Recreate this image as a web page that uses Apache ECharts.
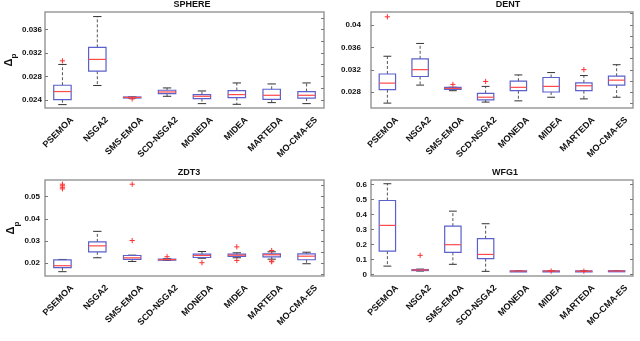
<!DOCTYPE html>
<html>
<head>
<meta charset="utf-8">
<script src="https://cdn.jsdelivr.net/npm/echarts@6/dist/echarts.min.js"></script>
<style>
  html, body { margin: 0; padding: 0; background: #fff; }
  #chart { width: 640px; height: 341px; }
</style>
</head>
<body>
<div id="chart"></div>
<script>
// algorithms on the x axis
var categories = ['PSEMOA', 'NSGA2', 'SMS-EMOA', 'SCD-NSGA2', 'MONEDA', 'MIDEA', 'MARTEDA', 'MO-CMA-ES'];

// boxes: [lower whisker, q1, median, q3, upper whisker]
var sphereBoxes = [
    [0.02318, 0.02403, 0.02541, 0.02649, 0.03004],
    [0.02644, 0.02889, 0.03090, 0.03296, 0.03822],
    [0.02430, 0.02435, 0.02440, 0.02448, 0.02450],
    [0.02460, 0.02506, 0.02534, 0.02563, 0.02603],
    [0.02335, 0.02420, 0.02460, 0.02489, 0.02551],
    [0.02323, 0.02438, 0.02489, 0.02558, 0.02688],
    [0.02352, 0.02409, 0.02477, 0.02580, 0.02671],
    [0.02335, 0.02430, 0.02477, 0.02541, 0.02688]
];
var sphereOutliers = [[0, 0.03066], [2, 0.02415]];

var dentBoxes = [
    [0.02607, 0.02846, 0.02963, 0.03126, 0.03442],
    [0.02928, 0.03081, 0.03203, 0.03396, 0.03670],
    [0.02828, 0.02853, 0.02870, 0.02888, 0.02890],
    [0.02625, 0.02665, 0.02712, 0.02782, 0.02905],
    [0.02647, 0.02828, 0.02888, 0.02998, 0.03109],
    [0.02712, 0.02805, 0.02905, 0.03063, 0.03151],
    [0.02682, 0.02828, 0.02916, 0.02968, 0.03098],
    [0.02712, 0.02928, 0.03016, 0.03086, 0.03291]
];
var dentOutliers = [[0, 0.04144], [2, 0.02940], [3, 0.02993], [6, 0.03203]];

var zdt3Boxes = [
    [0.01615, 0.01794, 0.01884, 0.02150, 0.02166],
    [0.02242, 0.02511, 0.02780, 0.02959, 0.03434],
    [0.02076, 0.02166, 0.02240, 0.02345, 0.02360],
    [0.02120, 0.02140, 0.02160, 0.02180, 0.02200],
    [0.02220, 0.02255, 0.02345, 0.02403, 0.02524],
    [0.02242, 0.02300, 0.02358, 0.02403, 0.02466],
    [0.02179, 0.02287, 0.02376, 0.02421, 0.02511],
    [0.01973, 0.02152, 0.02314, 0.02421, 0.02493]
];
var zdt3Outliers = [
    [0, 0.0556], [0, 0.0549], [0, 0.0542], [0, 0.0535],
    [2, 0.0556], [2, 0.0302], [3, 0.0229], [4, 0.0202],
    [5, 0.02735], [5, 0.02121], [6, 0.02569], [6, 0.02063], [6, 0.0209]
];

var wfg1Boxes = [
    [0.055, 0.155, 0.327, 0.493, 0.605],
    [0.022, 0.026, 0.029, 0.032, 0.035],
    [0.067, 0.147, 0.198, 0.322, 0.422],
    [0.020, 0.105, 0.133, 0.238, 0.338],
    [0.020, 0.021, 0.022, 0.023, 0.024],
    [0.020, 0.021, 0.022, 0.023, 0.024],
    [0.019, 0.020, 0.021, 0.023, 0.024],
    [0.019, 0.020, 0.022, 0.024, 0.025]
];
var wfg1Outliers = [[1, 0.127], [5, 0.022], [6, 0.021]];

// tick values (left = labelled, right = minor)
var sphereTicks = [0.024, 0.028, 0.032, 0.036];
var sphereMinor = [0.024, 0.026, 0.028, 0.030, 0.032, 0.034, 0.036, 0.038];
var dentTicks = [0.028, 0.032, 0.036, 0.04];
var dentMinor = [0.026, 0.028, 0.030, 0.032, 0.034, 0.036, 0.038, 0.040, 0.042];
var zdt3Ticks = [0.02, 0.03, 0.04, 0.05];
var zdt3Minor = [0.015, 0.02, 0.025, 0.03, 0.035, 0.04, 0.045, 0.05, 0.055];
var wfg1Ticks = [0, 0.1, 0.2, 0.3, 0.4, 0.5, 0.6];
var wfg1Minor = [0, 0.1, 0.2, 0.3, 0.4, 0.5, 0.6];

var FONT = 'Liberation Sans, Arial, sans-serif';

var panels = [
    {title: 'SPHERE', boxes: sphereBoxes, out: sphereOutliers, ticks: sphereTicks, minor: sphereMinor,
        min: 0.0226, max: 0.039, grid: {left: 45, top: 12, width: 279, height: 96}, titleX: 192, titleY: 5, lm: 3, name: true},
    {title: 'DENT', boxes: dentBoxes, out: dentOutliers, ticks: dentTicks, minor: dentMinor,
        min: 0.0252, max: 0.0423, grid: {left: 371, top: 12, width: 262, height: 96}, titleX: 508, titleY: 5, lm: 10, name: false},
    {title: 'ZDT3', boxes: zdt3Boxes, out: zdt3Outliers, ticks: zdt3Ticks, minor: zdt3Minor,
        min: 0.0142, max: 0.0575, grid: {left: 45, top: 180, width: 279, height: 96}, titleX: 189, titleY: 173, lm: 5, name: true},
    {title: 'WFG1', boxes: wfg1Boxes, out: wfg1Outliers, ticks: wfg1Ticks, minor: wfg1Minor,
        min: -0.011, max: 0.63, grid: {left: 371, top: 180, width: 262, height: 96}, titleX: 505, titleY: 173, lm: 4, name: false}
];

function renderBox(params, api) {
    var i = api.value(0);
    var lo = api.coord([i, api.value(1)]);
    var q1 = api.coord([i, api.value(2)]);
    var md = api.coord([i, api.value(3)]);
    var q3 = api.coord([i, api.value(4)]);
    var hi = api.coord([i, api.value(5)]);
    var band = api.size([1, 0])[0];
    var bw = band * 0.5, cw = band * 0.24, cx = lo[0];
    var dash = {stroke: '#555', lineWidth: 1, lineDash: [3, 2]};
    var cap = {stroke: '#333', lineWidth: 1};
    return {
        type: 'group',
        children: [
            {type: 'line', shape: {x1: cx, y1: q3[1], x2: cx, y2: hi[1]}, style: dash},
            {type: 'line', shape: {x1: cx, y1: q1[1], x2: cx, y2: lo[1]}, style: dash},
            {type: 'line', shape: {x1: cx - cw / 2, y1: hi[1], x2: cx + cw / 2, y2: hi[1]}, style: cap},
            {type: 'line', shape: {x1: cx - cw / 2, y1: lo[1], x2: cx + cw / 2, y2: lo[1]}, style: cap},
            {type: 'rect', shape: {x: cx - bw / 2, y: q3[1], width: bw, height: Math.max(q1[1] - q3[1], 1)},
                style: {fill: 'none', stroke: '#5a60cc', lineWidth: 1.2}},
            {type: 'line', shape: {x1: cx - bw / 2, y1: md[1], x2: cx + bw / 2, y2: md[1]},
                style: {stroke: '#ff4a4a', lineWidth: 1.2}}
        ]
    };
}

function renderPlus(params, api) {
    var p = api.coord([api.value(0), api.value(1)]);
    var s = 2.6;
    var st = {stroke: '#ff3030', lineWidth: 1};
    return {
        type: 'group',
        children: [
            {type: 'line', shape: {x1: p[0] - s, y1: p[1], x2: p[0] + s, y2: p[1]}, style: st},
            {type: 'line', shape: {x1: p[0], y1: p[1] - s, x2: p[0], y2: p[1] + s}, style: st}
        ]
    };
}

var grids = [], xAxes = [], yAxes = [], series = [], graphics = [];

panels.forEach(function (p, k) {
    grids.push(Object.assign({show: true, borderColor: '#9a9a9a', borderWidth: 1.5, outerBoundsMode: 'none'}, p.grid));
    xAxes.push({
        type: 'category', gridIndex: k, data: categories, boundaryGap: true,
        axisLine: {show: false}, axisTick: {show: false},
        axisLabel: {
            interval: 0, rotate: 45, margin: 1, verticalAlign: 'top', padding: [9, 0, 0, 0],
            fontFamily: FONT, fontWeight: 'bold', fontSize: 9, color: '#111'
        }
    });
    yAxes.push({
        type: 'value', gridIndex: k, min: p.min, max: p.max, position: 'left',
        splitLine: {show: false}, axisLine: {show: false},
        axisTick: {show: true, inside: true, length: 3, customValues: p.ticks, lineStyle: {color: '#777'}},
        axisLabel: {
            customValues: p.ticks, margin: p.lm, fontFamily: FONT, fontWeight: 'bold', fontSize: 8, color: '#111',
            formatter: function (v) { return String(+(+v).toFixed(4)); }
        },
        name: p.name ? '{d|Δ}{s|p}' : '', nameLocation: 'middle', nameRotate: 90, nameGap: 28,
        nameTextStyle: {
            rich: {
                d: {fontFamily: FONT, fontSize: 11, fontWeight: 'bold', color: '#111', lineHeight: 14, verticalAlign: 'bottom'},
                s: {fontFamily: FONT, fontSize: 8, fontWeight: 'bold', color: '#111', lineHeight: 14, verticalAlign: 'bottom', padding: [0, 0, -4, 0]}
            }
        }
    });
    yAxes.push({
        type: 'value', gridIndex: k, min: p.min, max: p.max, position: 'right',
        splitLine: {show: false}, axisLine: {show: false}, axisLabel: {show: false},
        axisTick: {show: true, inside: true, length: 3, customValues: p.minor, lineStyle: {color: '#777'}}
    });
    series.push({
        type: 'custom', xAxisIndex: k, yAxisIndex: k * 2, renderItem: renderBox,
        encode: {x: 0, y: [1, 2, 3, 4, 5]},
        data: p.boxes.map(function (b, i) { return [i].concat(b); })
    });
    series.push({
        type: 'custom', xAxisIndex: k, yAxisIndex: k * 2, renderItem: renderPlus,
        encode: {x: 0, y: 1}, z: 5,
        data: p.out
    });
    graphics.push({
        type: 'text', x: p.titleX, y: p.titleY,
        style: {text: p.title, align: 'center', verticalAlign: 'middle', fill: '#111',
            font: 'bold 9px ' + FONT}
    });
});

var myChart = echarts.init(document.getElementById('chart'), null, {renderer: 'canvas'});
myChart.setOption({
    animation: false,
    backgroundColor: '#fff',
    grid: grids,
    xAxis: xAxes,
    yAxis: yAxes,
    series: series,
    graphic: graphics
});
</script>
</body>
</html>
